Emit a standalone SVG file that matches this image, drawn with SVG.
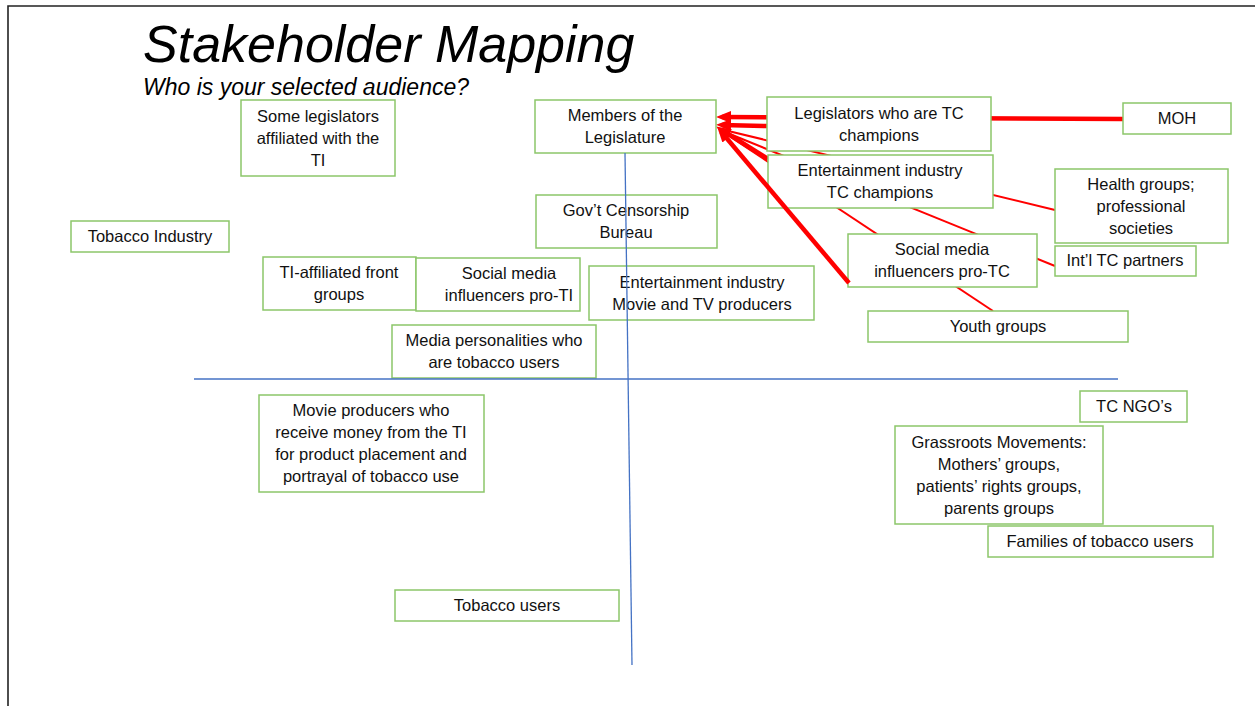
<svg xmlns="http://www.w3.org/2000/svg" width="1255" height="706" viewBox="0 0 1255 706">
<style>
.n rect{fill:#fff;stroke:#8cc66a;stroke-width:1.5}
.n text{font-family:"Liberation Sans",Arial,sans-serif;font-size:16.5px;fill:#111;text-anchor:middle}
.thick{stroke:#ff0000;stroke-width:4.5;fill:none}
.thin{stroke:#ff0000;stroke-width:2;fill:none}
.axis{stroke:#4472c4;stroke-width:1.3;fill:none}
.title{font-family:"Liberation Sans",Arial,sans-serif;font-style:italic;fill:#000}
</style>
<defs>
<marker id="ah" markerUnits="userSpaceOnUse" markerWidth="15" markerHeight="12" refX="9" refY="6" orient="auto">
<path d="M0,0 L15,6 L0,12 z" fill="#ff0000"/>
</marker>
</defs>
<rect width="1255" height="706" fill="#fff"/>
<path d="M8,706 L8,6 L1255,6" fill="none" stroke="#222" stroke-width="1.6"/>
<text class="title" x="143" y="62" font-size="52">Stakeholder Mapping</text>
<text class="title" x="143" y="95" font-size="23">Who is your selected audience?</text>

<g id="connectors">
<line class="thin" x1="1055" y1="210" x2="720" y2="129"/>
<line class="thin" x1="1055" y1="266" x2="720" y2="130"/>
<line class="thin" x1="993" y1="311" x2="720" y2="130"/>
<line class="thick" x1="1123" y1="119" x2="722" y2="117" marker-end="url(#ah)"/>
<line class="thick" x1="767" y1="126" x2="722" y2="125" marker-end="url(#ah)"/>
<line class="thick" x1="768" y1="159" x2="721.3" y2="129.7" marker-end="url(#ah)"/>
</g>

<g id="n-some-legislators" class="n"><rect x="241" y="100" width="154" height="76"/><text x="318" y="122">Some legislators</text><text x="318" y="144">affiliated with the</text><text x="318" y="166">TI</text></g>
<g id="n-members" class="n"><rect x="535" y="100" width="181" height="53"/><text x="625" y="121">Members of the</text><text x="625" y="143">Legislature</text></g>
<g id="n-legislators-tc" class="n"><rect x="767" y="97" width="224" height="54"/><text x="879" y="119">Legislators who are TC</text><text x="879" y="141">champions</text></g>
<g id="n-moh" class="n"><rect x="1123" y="103" width="108" height="31"/><text x="1177" y="124">MOH</text></g>
<g id="n-ent-tc" class="n"><rect x="768" y="155" width="225" height="53"/><text x="880" y="176">Entertainment industry</text><text x="880" y="198">TC champions</text></g>
<g id="n-health" class="n"><rect x="1055" y="169" width="173" height="74"/><text x="1141" y="190">Health groups;</text><text x="1141" y="212">professional</text><text x="1141" y="234">societies</text></g>
<g id="n-censorship" class="n"><rect x="536" y="195" width="181" height="53"/><text x="626" y="216">Gov’t Censorship</text><text x="626" y="238">Bureau</text></g>
<g id="n-tobacco-industry" class="n"><rect x="71" y="221" width="158" height="31"/><text x="150" y="242">Tobacco Industry</text></g>
<g id="n-front-groups" class="n"><rect x="263" y="257" width="153" height="53"/><text x="339" y="278">TI-affiliated front</text><text x="339" y="300">groups</text></g>
<g id="n-social-ti" class="n"><rect x="416" y="258" width="164" height="53"/><text x="509" y="279">Social media</text><text x="509" y="301">influencers pro-TI</text></g>
<g id="n-ent-producers" class="n"><rect x="589" y="266" width="225" height="54"/><text x="702" y="288">Entertainment industry</text><text x="702" y="310">Movie and TV producers</text></g>
<g id="n-social-tc" class="n"><rect x="848" y="234" width="189" height="53"/><text x="942" y="255">Social media</text><text x="942" y="277">influencers pro-TC</text></g>
<g id="n-intl" class="n"><rect x="1055" y="246" width="141" height="30"/><text x="1125" y="266">Int’l TC partners</text></g>
<g id="n-youth" class="n"><rect x="868" y="311" width="260" height="31"/><text x="998" y="332">Youth groups</text></g>
<g id="n-media-personalities" class="n"><rect x="392" y="325" width="204" height="53"/><text x="494" y="346">Media personalities who</text><text x="494" y="368">are tobacco users</text></g>
<g id="n-movie-producers" class="n"><rect x="259" y="395" width="225" height="97"/><text x="371" y="416">Movie producers who</text><text x="371" y="438">receive money from the TI</text><text x="371" y="460">for product placement and</text><text x="371" y="482">portrayal of tobacco use</text></g>
<g id="n-tc-ngos" class="n"><rect x="1080" y="391" width="107" height="31"/><text x="1134" y="412">TC NGO’s</text></g>
<g id="n-grassroots" class="n"><rect x="895" y="426" width="208" height="98"/><text x="999" y="448">Grassroots Movements:</text><text x="999" y="470">Mothers’ groups,</text><text x="999" y="492">patients’ rights groups,</text><text x="999" y="514">parents groups</text></g>
<g id="n-families" class="n"><rect x="988" y="526" width="225" height="31"/><text x="1100" y="547">Families of tobacco users</text></g>
<g id="n-tobacco-users" class="n"><rect x="395" y="590" width="224" height="31"/><text x="507" y="611">Tobacco users</text></g>

<g id="connectors-front">
<line class="thick" x1="849" y1="283" x2="721.2" y2="131.8" marker-end="url(#ah)"/>
</g>
<g id="axes">
<line class="axis" x1="194" y1="379" x2="1118" y2="379"/>
<line class="axis" x1="625" y1="153" x2="632" y2="665"/>
</g>
</svg>
